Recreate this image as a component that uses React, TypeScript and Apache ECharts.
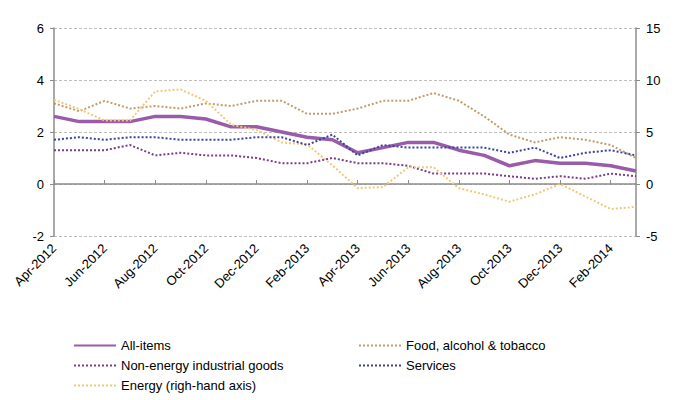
import React, { useEffect, useRef } from "react";
import * as echarts from "echarts";

const months = [
  "Apr-2012", "May-2012", "Jun-2012", "Jul-2012", "Aug-2012", "Sep-2012",
  "Oct-2012", "Nov-2012", "Dec-2012", "Jan-2013", "Feb-2013", "Mar-2013",
  "Apr-2013", "May-2013", "Jun-2013", "Jul-2013", "Aug-2013", "Sep-2013",
  "Oct-2013", "Nov-2013", "Dec-2013", "Jan-2014", "Feb-2014", "Mar-2014",
];

const allItems = [2.6, 2.4, 2.4, 2.4, 2.6, 2.6, 2.5, 2.2, 2.2, 2.0, 1.8, 1.7, 1.2, 1.4, 1.6, 1.6, 1.3, 1.1, 0.7, 0.9, 0.8, 0.8, 0.7, 0.5];
const food = [3.1, 2.8, 3.2, 2.9, 3.0, 2.9, 3.1, 3.0, 3.2, 3.2, 2.7, 2.7, 2.9, 3.2, 3.2, 3.5, 3.2, 2.6, 1.9, 1.6, 1.8, 1.7, 1.5, 1.0];
const nonEnergy = [1.3, 1.3, 1.3, 1.5, 1.1, 1.2, 1.1, 1.1, 1.0, 0.8, 0.8, 1.0, 0.8, 0.8, 0.7, 0.4, 0.4, 0.4, 0.3, 0.2, 0.3, 0.2, 0.4, 0.3];
const services = [1.7, 1.8, 1.7, 1.8, 1.8, 1.7, 1.7, 1.7, 1.8, 1.8, 1.5, 1.9, 1.1, 1.5, 1.4, 1.4, 1.4, 1.4, 1.2, 1.4, 1.0, 1.2, 1.3, 1.1];
const energy = [8.1, 7.2, 6.1, 6.1, 8.9, 9.1, 8.0, 5.7, 5.2, 4.0, 3.8, 1.8, -0.4, -0.3, 1.6, 1.6, -0.4, -1.0, -1.7, -1.0, 0.0, -1.2, -2.4, -2.2];

const leftTicks = { min: -2, max: 6, interval: 2 };
const rightTicks = { min: -5, max: 15, interval: 5 };

const FONT = "Liberation Sans, Arial, sans-serif";
const AXIS = "#8c8c8c";

export default function App() {
  const ref = useRef<HTMLDivElement>(null);
  useEffect(() => {
    document.body.style.margin = "0";
    if (!ref.current) return;
    const chart = echarts.init(ref.current, undefined, { renderer: "svg" });
    const dotted = (color: string) => ({ width: 2, color, type: [2, 2] as number[] });
    const legendCommon = {
      orient: "vertical",
      top: 339,
      padding: 0,
      itemWidth: 42,
      itemHeight: 14,
      itemGap: 7,
      itemStyle: { opacity: 0 },
      textStyle: { fontSize: 13, color: "#000", fontFamily: FONT },
    };
    chart.setOption({
      animation: false,
      textStyle: { fontFamily: FONT },
      grid: { left: 54, right: 64, top: 28, bottom: 164, containLabel: false },
      legend: [
        {
          ...legendCommon,
          left: 73,
          data: ["All-items", "Non-energy industrial goods", "Energy (righ-hand axis)"],
        },
        {
          ...legendCommon,
          left: 358,
          data: ["Food, alcohol & tobacco", "Services"],
        },
      ],
      xAxis: [
        {
          type: "category",
          data: months,
          boundaryGap: false,
          position: "bottom",
          axisLine: { show: false, onZero: false },
          axisTick: { show: false },
          axisLabel: {
            interval: 1,
            rotate: 45,
            fontSize: 13,
            color: "#000",
            fontFamily: FONT,
            margin: 10,
          },
          splitLine: { show: false },
        },
        {
          type: "category",
          data: months,
          boundaryGap: false,
          position: "top",
          axisLine: { show: true, onZero: true, lineStyle: { color: AXIS, width: 1.5 } },
          axisTick: { show: true, interval: 1, inside: false, length: 4, lineStyle: { color: AXIS } },
          axisLabel: { show: false },
          splitLine: { show: false },
        },
      ],
      yAxis: [
        {
          type: "value",
          ...leftTicks,
          position: "left",
          axisLine: { show: true, lineStyle: { color: AXIS, width: 1.5 } },
          axisTick: { show: true, length: 4, lineStyle: { color: AXIS } },
          axisLabel: { fontSize: 13, color: "#000", fontFamily: FONT, margin: 10 },
          splitLine: { show: true, lineStyle: { color: "#bdbdbd", type: [3, 2], width: 1 } },
        },
        {
          type: "value",
          ...rightTicks,
          position: "right",
          axisLine: { show: true, lineStyle: { color: AXIS, width: 1.5 } },
          axisTick: { show: true, length: 4, lineStyle: { color: AXIS } },
          axisLabel: { fontSize: 13, color: "#000", fontFamily: FONT, margin: 10 },
          splitLine: { show: false },
        },
      ],
      series: [
        {
          name: "All-items",
          type: "line",
          data: allItems,
          yAxisIndex: 0,
          symbol: "none",
          color: "#9a5ba8",
          lineStyle: { width: 3.5, color: "#9a5ba8" },
          z: 3,
        },
        {
          name: "Food, alcohol & tobacco",
          type: "line",
          data: food,
          yAxisIndex: 0,
          symbol: "none",
          color: "#c49a6c",
          lineStyle: dotted("#c49a6c"),
        },
        {
          name: "Non-energy industrial goods",
          type: "line",
          data: nonEnergy,
          yAxisIndex: 0,
          symbol: "none",
          color: "#7a3c8c",
          lineStyle: dotted("#7a3c8c"),
        },
        {
          name: "Services",
          type: "line",
          data: services,
          yAxisIndex: 0,
          symbol: "none",
          color: "#3b45a0",
          lineStyle: dotted("#3b45a0"),
          z: 4,
        },
        {
          name: "Energy (righ-hand axis)",
          type: "line",
          data: energy,
          yAxisIndex: 1,
          symbol: "none",
          color: "#f2c877",
          lineStyle: dotted("#f2c877"),
        },
      ],
    });
    return () => chart.dispose();
  }, []);
  return <div ref={ref} style={{ width: 700, height: 400 }} />;
}
